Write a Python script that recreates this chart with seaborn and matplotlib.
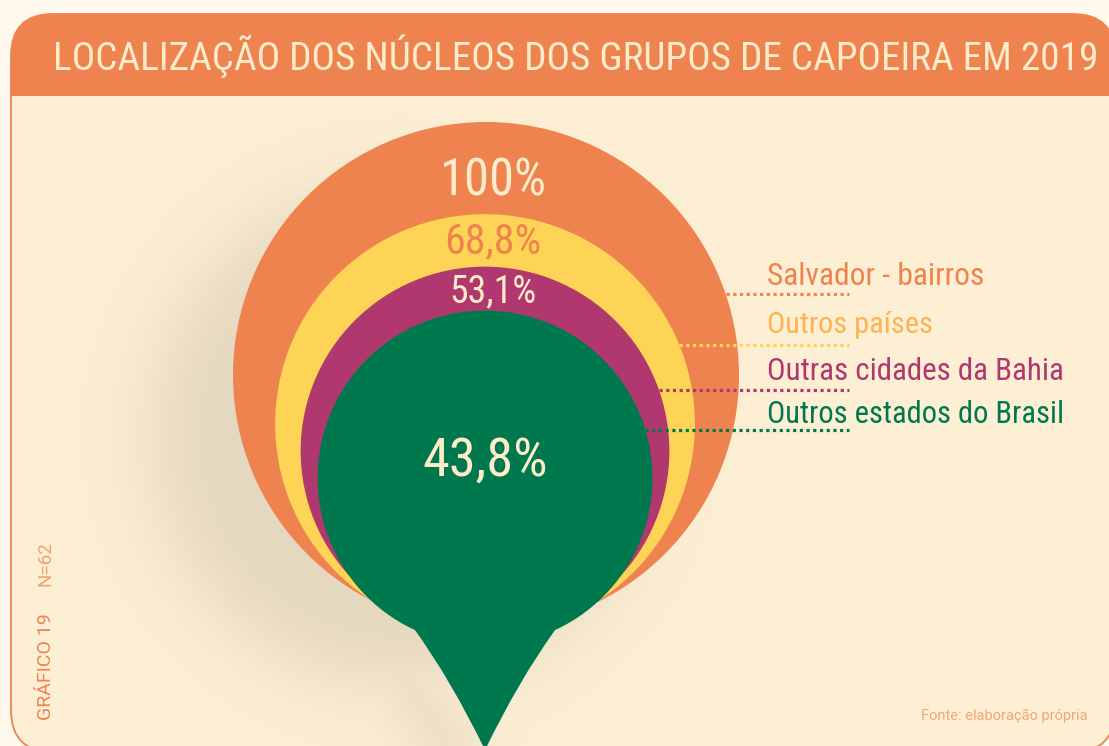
import numpy as np
import seaborn as sns
import matplotlib.pyplot as plt
from matplotlib import font_manager
from matplotlib.patches import Circle, FancyBboxPatch, PathPatch, Rectangle
from matplotlib.path import Path

# data
categories = ["Salvador - bairros", "Outros países", "Outras cidades da Bahia", "Outros estados do Brasil"]
values = [100, 68.8, 53.1, 43.8]
value_labels = ["100%", "68,8%", "53,1%", "43,8%"]
title = "LOCALIZAÇÃO DOS NÚCLEOS DOS GRUPOS DE CAPOEIRA EM 2019"
source = "Fonte: elaboração própria"
chart_id = "GRÁFICO 19"
sample = "N=62"

# colours
fill_colors = ["#ee834f", "#fdd455", "#b0386e", "#00784e"]
label_colors = ["#ee834f", "#fbb451", "#b0386e", "#00784e"]
line_colors = ["#ee834f", "#fdd455", "#b0386e", "#00784e"]
pct_colors = ["#fdebca", "#ee834f", "#fdebca", "#fdebca"]
ORANGE = "#ee834f"
PANEL = "#fdefd4"
OUTER = "#fff8ec"
SHADOW = (228 / 255, 215 / 255, 191 / 255)

sns.set_theme(style="white")


def pick_font(names, default):
    for n in names:
        try:
            font_manager.findfont(font_manager.FontProperties(family=n), fallback_to_default=False)
            return n
        except Exception:
            pass
    return default


NARROW = pick_font(["Liberation Sans Narrow", "DejaVu Sans Condensed", "Roboto Condensed"], "Roboto")
plt.rcParams["font.family"] = [NARROW, "DejaVu Sans"]

W, H = 1109, 746
fig = plt.figure(figsize=(W / 100, H / 100), dpi=100)
fig.patch.set_facecolor(OUTER)
ax = fig.add_axes([0, 0, 1, 1])
ax.set_facecolor(OUTER)

# panel and banner
panel = FancyBboxPatch((11, 14), 1104, 738, boxstyle="round,pad=0,rounding_size=42",
                       facecolor=PANEL, edgecolor=ORANGE, lw=1.3, zorder=0)
ax.add_patch(panel)
banner = FancyBboxPatch((11, 14), 1104, 160, boxstyle="round,pad=0,rounding_size=42",
                        facecolor=ORANGE, edgecolor="none", zorder=0.5)
ax.add_patch(banner)
banner.set_clip_path(Rectangle((0, 0), W, 96, transform=ax.transData))

# soft shadow behind the pin
yy, xx = np.mgrid[0:H, 0:W] + 0.5
d1 = np.hypot(xx - 400, yy - 435) - 248
a1 = 0.5 * (1 - np.tanh(d1 / 48))
px, py, qx, qy = 360, 610, 445, 740
t = np.clip(((xx - px) * (qx - px) + (yy - py) * (qy - py)) / ((qx - px) ** 2 + (qy - py) ** 2), 0, 1)
d2 = np.hypot(xx - (px + t * (qx - px)), yy - (py + t * (qy - py))) - 25
a2 = 0.5 * (1 - np.tanh(d2 / 40)) * 0.8
alpha = np.maximum(a1, a2) * 0.97
img = np.zeros((H, W, 4))
img[..., 0], img[..., 1], img[..., 2] = SHADOW
img[..., 3] = alpha
ax.imshow(img, extent=(0, W, H, 0), origin="upper", zorder=1, interpolation="bilinear")

# nested circles, area proportional to value
R_MAX = 253
cx = [486, 485, 485, 485]
cy = [375, 424, 451, 478]
radii = [R_MAX * np.sqrt(v / 100) for v in values]
for i, (r, c) in enumerate(zip(radii, fill_colors)):
    ax.add_patch(Circle((cx[i], cy[i]), r, facecolor=c, edgecolor="none", lw=0, zorder=2 + i))

# pin tail on the last circle
gx, gy, gr = cx[3], cy[3], radii[3]
jx = 70
jy = gy + np.sqrt(gr ** 2 - jx ** 2)
tip = (gx, 750)
verts = [(gx - jx, jy), (gx - 34, 680), tip, (gx + 34, 680), (gx + jx, jy), (gx, gy), (gx - jx, jy)]
codes = [Path.MOVETO, Path.CURVE3, Path.CURVE3, Path.CURVE3, Path.CURVE3, Path.LINETO, Path.CLOSEPOLY]
ax.add_patch(PathPatch(Path(verts, codes), facecolor=fill_colors[3], edgecolor="none", lw=0, zorder=5))

# leader lines from each circle edge
line_y = [294, 345, 390, 430]
line_end = 849
for i in range(4):
    x0 = cx[i] + np.sqrt(max(radii[i] ** 2 - (line_y[i] - cy[i]) ** 2, 0))
    sns.lineplot(x=[x0, line_end], y=[line_y[i], line_y[i]], color=line_colors[i], lw=2.3,
                 linestyle=(0, (1, 1.1)), ax=ax, legend=False, zorder=6)

texts = []
# category labels
label_base = [285, 333, 380, 423]
label_width = [218, 166, 297, 297]
for i, cat in enumerate(categories):
    tt = ax.text(767, label_base[i], cat, color=label_colors[i], fontsize=22, ha="left", va="baseline", zorder=7)
    texts.append((tt, label_width[i]))

# value labels
pct_x = [493, 493, 493, 485]
pct_base = [195, 253, 302, 476]
pct_size = [35, 28, 28, 37]
pct_width = [107, 97, 87, 125]
for i, lab in enumerate(value_labels):
    tt = ax.text(pct_x[i], pct_base[i], lab, color=pct_colors[i], fontsize=pct_size[i],
                 ha="center", va="baseline", zorder=8)
    texts.append((tt, pct_width[i]))

# title
tt = ax.text(53, 70, title, color="#fdebca", fontsize=30, ha="left", va="baseline", zorder=8)
texts.append((tt, 1044))

# side and source notes
ax.text(46, 667, chart_id, color=ORANGE, fontsize=14, rotation=90, ha="center", va="center",
        family=["Roboto", "DejaVu Sans"], zorder=8)
ax.text(46, 564, sample, color="#f2a070", fontsize=13.5, rotation=90, ha="center", va="center",
        family=["Roboto", "DejaVu Sans"], zorder=8)
ax.text(1088, 716, source, color="#f3a676", fontsize=10.5, ha="right", va="center",
        family=["Roboto", "DejaVu Sans"], zorder=8)

ax.set_xlim(0, W)
ax.set_ylim(H, 0)
ax.axis("off")

# shrink or grow each narrow text to the width it has in the original
fig.canvas.draw()
renderer = fig.canvas.get_renderer()
for tt, target in texts:
    bb = tt.get_window_extent(renderer)
    tt.set_fontsize(tt.get_fontsize() * target / bb.width)

fig.savefig("out.png", dpi=100, facecolor=OUTER)
